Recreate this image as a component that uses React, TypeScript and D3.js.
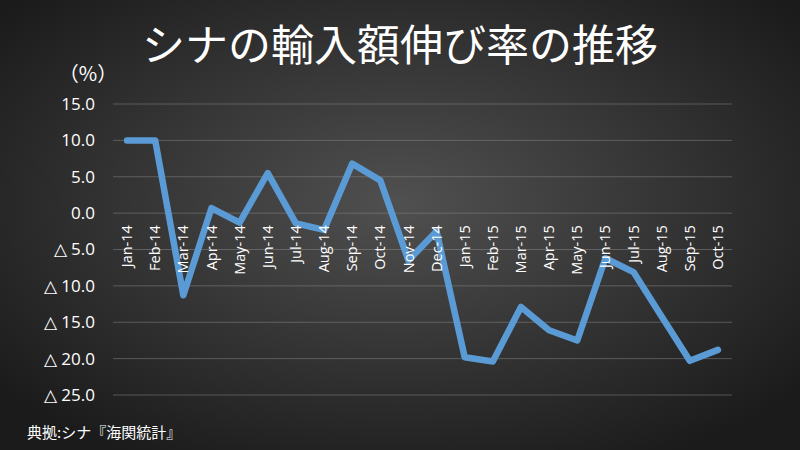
import * as d3 from 'd3';
import React, { useEffect, useRef } from "react";

const months = [
    'Jan-14', 'Feb-14', 'Mar-14', 'Apr-14', 'May-14', 'Jun-14', 'Jul-14', 'Aug-14', 'Sep-14', 'Oct-14', 'Nov-14', 'Dec-14',
    'Jan-15', 'Feb-15', 'Mar-15', 'Apr-15', 'May-15', 'Jun-15', 'Jul-15', 'Aug-15', 'Sep-15', 'Oct-15'
];
const growth = [
    10.0, 10.0, -11.3, 0.7, -1.3, 5.5, -1.4, -2.3, 6.8, 4.5, -6.5, -2.5,
    -19.8, -20.4, -12.9, -16.1, -17.5, -6.2, -8.1, -14.2, -20.3, -18.8
];
const yTicks = [15, 10, 5, 0, -5, -10, -15, -20, -25];

const title = 'シナの輸入額伸び率の推移';
const unit = '（%）';
const source = '典拠:シナ『海関統計』';

const cjkFont = '"Noto Sans CJK JP", "Noto Sans", sans-serif';
const latinFont = '"Open Sans", "Noto Sans", sans-serif';

// negative values are written with a triangle, as in Japanese reports
const fmt = (v: number) => v < 0 ? `△ ${Math.abs(v).toFixed(1)}` : v.toFixed(1);

const App: React.FC = () => {
    const ref = useRef<SVGSVGElement>(null);

    useEffect(() => {
        if (!ref.current) return;
        const width = 800;
        const height = 450;

        const svg = d3.select(ref.current)
            .attr('width', width)
            .attr('height', height);
        svg.selectAll('*').remove();

        const defs = svg.append('defs');
        const grad = defs.append('radialGradient')
            .attr('id', 'bg')
            .attr('cx', '50%').attr('cy', '45%').attr('r', '65%');
        grad.append('stop').attr('offset', '0%').attr('stop-color', '#505050');
        grad.append('stop').attr('offset', '100%').attr('stop-color', '#1b1b1b');

        svg.append('rect')
            .attr('width', width)
            .attr('height', height)
            .attr('fill', 'url(#bg)');

        const x = d3.scaleBand<string>().domain(months).range([113, 732]);
        const y = d3.scaleLinear().domain([-25, 15]).range([395, 104]);

        // gridlines
        svg.append('g')
            .selectAll('line')
            .data(yTicks)
            .enter()
            .append('line')
            .attr('x1', 113)
            .attr('x2', 732)
            .attr('y1', d => y(d))
            .attr('y2', d => y(d))
            .attr('stroke', '#8a8a8a')
            .attr('stroke-opacity', 0.5)
            .attr('stroke-width', 1);

        // y labels
        svg.append('g')
            .selectAll('text')
            .data(yTicks)
            .enter()
            .append('text')
            .attr('x', 95)
            .attr('y', d => y(d))
            .attr('dy', '0.35em')
            .attr('text-anchor', 'end')
            .attr('fill', '#ffffff')
            .attr('font-family', latinFont)
            .attr('font-size', 17)
            .text(d => fmt(d));

        const line = d3.line<number>()
            .x((_, i) => x(months[i])! + x.bandwidth() / 2)
            .y(d => y(d));

        svg.append('path')
            .datum(growth)
            .attr('d', line)
            .attr('fill', 'none')
            .attr('stroke', '#5b9bd5')
            .attr('stroke-width', 6.5)
            .attr('stroke-linejoin', 'round')
            .attr('stroke-linecap', 'round');

        // category labels, rotated, hanging just under the zero line (drawn over the line)
        svg.append('g')
            .selectAll('text')
            .data(months)
            .enter()
            .append('text')
            .attr('transform', d => `translate(${x(d)! + x.bandwidth() / 2}, ${y(0) + 12}) rotate(-90)`)
            .attr('dy', '0.35em')
            .attr('text-anchor', 'end')
            .attr('fill', '#ffffff')
            .attr('font-family', latinFont)
            .attr('font-size', 14.5)
            .text(d => d);

        svg.append('text')
            .attr('x', 400)
            .attr('y', 61)
            .attr('text-anchor', 'middle')
            .attr('fill', '#ffffff')
            .attr('font-family', cjkFont)
            .attr('font-size', 43)
            .text(title);

        svg.append('text')
            .attr('x', 88)
            .attr('y', 74)
            .attr('dy', '0.35em')
            .attr('text-anchor', 'middle')
            .attr('fill', '#ffffff')
            .attr('font-family', cjkFont)
            .attr('font-size', 20)
            .text(unit);

        svg.append('text')
            .attr('x', 27)
            .attr('y', 438)
            .attr('fill', '#ffffff')
            .attr('font-family', cjkFont)
            .attr('font-size', 15)
            .text(source);
    }, []);

    return (
        <svg ref={ref} style={{ position: 'absolute', left: 0, top: 0, display: 'block' }}></svg>
    );
}

export default App;
